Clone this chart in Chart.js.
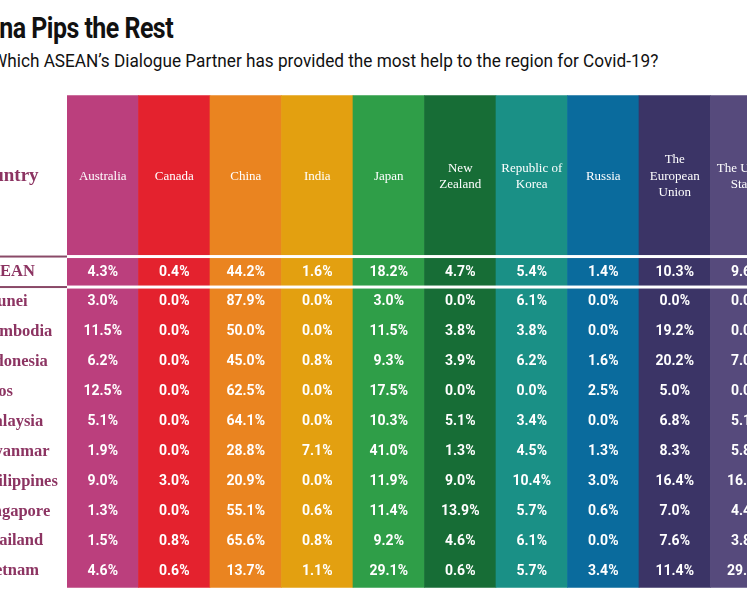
<!DOCTYPE html>
<html>
<head>
<meta charset="utf-8">
<script src="https://cdn.jsdelivr.net/npm/chart.js@4.4.1/dist/chart.umd.min.js"></script>
<style>
  body { margin: 0; background: #fff; overflow: hidden; width: 747px; height: 598px; position: relative; font-family: Roboto, sans-serif; }
  #title { position: absolute; left: -36px; top: 11px; font: bold 29px "Roboto", sans-serif; letter-spacing: -0.6px; color: #111; white-space: nowrap; transform: scaleX(0.86); transform-origin: left; }
  #sub { position: absolute; left: -8px; top: 49px; font: 19px "Roboto", sans-serif; color: #111; white-space: nowrap; transform: scaleX(0.905); transform-origin: left; }
  #myChart { position: absolute; left: -43px; top: 0; }
</style>
</head>
<body>
<div id="title">China Pips the Rest</div>
<div id="sub">Which ASEAN’s Dialogue Partner has provided the most help to the region for Covid-19?</div>
<canvas id="myChart" width="907" height="598"></canvas>
<script>
const partners = ['Australia', 'Canada', 'China', 'India', 'Japan', 'New Zealand', 'Republic of Korea', 'Russia', 'The European Union', 'The United States'];
const headerLines = [['Australia'], ['Canada'], ['China'], ['India'], ['Japan'], ['New', 'Zealand'], ['Republic of', 'Korea'], ['Russia'], ['The', 'European', 'Union'], ['The United', 'States']];
const countries = ['ASEAN', 'Brunei', 'Cambodia', 'Indonesia', 'Laos', 'Malaysia', 'Myanmar', 'Philippines', 'Singapore', 'Thailand', 'Vietnam'];
const australia = [4.3, 3.0, 11.5, 6.2, 12.5, 5.1, 1.9, 9.0, 1.3, 1.5, 4.6];
const canada = [0.4, 0.0, 0.0, 0.0, 0.0, 0.0, 0.0, 3.0, 0.0, 0.8, 0.6];
const china = [44.2, 87.9, 50.0, 45.0, 62.5, 64.1, 28.8, 20.9, 55.1, 65.6, 13.7];
const india = [1.6, 0.0, 0.0, 0.8, 0.0, 0.0, 7.1, 0.0, 0.6, 0.8, 1.1];
const japan = [18.2, 3.0, 11.5, 9.3, 17.5, 10.3, 41.0, 11.9, 11.4, 9.2, 29.1];
const newZealand = [4.7, 0.0, 3.8, 3.9, 0.0, 5.1, 1.3, 9.0, 13.9, 4.6, 0.6];
const korea = [5.4, 6.1, 3.8, 6.2, 0.0, 3.4, 4.5, 10.4, 5.7, 6.1, 5.7];
const russia = [1.4, 0.0, 0.0, 1.6, 2.5, 0.0, 1.3, 3.0, 0.6, 0.0, 3.4];
const eu = [10.3, 0.0, 19.2, 20.2, 5.0, 6.8, 8.3, 16.4, 7.0, 7.6, 11.4];
const us = [9.6, 0.0, 0.0, 7.0, 0.0, 5.1, 5.8, 16.4, 4.4, 3.8, 29.8];
const values = [australia, canada, china, india, japan, newZealand, korea, russia, eu, us];
const colors = ['#bb3f7d', '#e4222e', '#ea8420', '#e3a010', '#2f9e48', '#176d36', '#1a9086', '#0a6b9d', '#3b3466', '#564a7c'];

// y runs in row units: ASEAN = 0, Brunei = 1, ...
const colTop = -5.9, colBottom = 10.55, headerY = -3.2;

const tablePlugin = {
  id: 'table',
  afterDatasetsDraw(chart) {
    const c = chart.ctx, x = chart.scales.x, y = chart.scales.y;
    const area = chart.chartArea;
    c.save();
    c.textAlign = 'center';
    c.textBaseline = 'middle';
    // header labels
    c.fillStyle = '#fff';
    c.font = '13px "Liberation Serif", serif';
    headerLines.forEach((lines, i) => {
      const cx = x.getPixelForValue(i);
      lines.forEach((t, j) => {
        c.fillText(t, cx, y.getPixelForValue(headerY) + (j - (lines.length - 1) / 2) * 16.5);
      });
    });
    // values
    c.font = 'bold 14px Roboto, sans-serif';
    values.forEach((col, i) => {
      const cx = x.getPixelForValue(i);
      col.forEach((v, r) => c.fillText(v.toFixed(1) + '%', cx, y.getPixelForValue(r)));
    });
    // separator lines
    [-0.52, 0.5].forEach(r => {
      const py = y.getPixelForValue(r);
      c.fillStyle = '#fff';
      c.fillRect(area.left, py - 1.5, area.right - area.left, 3);
      c.fillStyle = '#8a4a68';
      c.fillRect(0, py - 1, area.left, 2);
    });
    // row labels
    c.textAlign = 'left';
    c.fillStyle = '#8c3462';
    c.font = 'bold 16.5px "Liberation Serif", serif';
    countries.forEach((n, r) => c.fillText(n, 22, y.getPixelForValue(r)));
    c.font = 'bold 19px "Liberation Serif", serif';
    c.fillText('Country', 13, y.getPixelForValue(headerY));
    c.restore();
  }
};

new Chart(document.getElementById('myChart'), {
  type: 'bar',
  data: {
    labels: partners,
    datasets: [{
      data: partners.map(() => [colTop, colBottom]),
      backgroundColor: colors,
      borderWidth: 0,
      barPercentage: 1,
      categoryPercentage: 1
    }]
  },
  options: {
    responsive: false,
    animation: false,
    layout: { padding: { left: 110, right: 82, top: 0, bottom: 0 } },
    plugins: { legend: { display: false }, tooltip: { enabled: false } },
    scales: {
      x: { display: false, grid: { display: false } },
      y: { display: false, reverse: true, min: -9.1, max: 10.9 }
    }
  },
  plugins: [tablePlugin]
});
</script>
</body>
</html>
